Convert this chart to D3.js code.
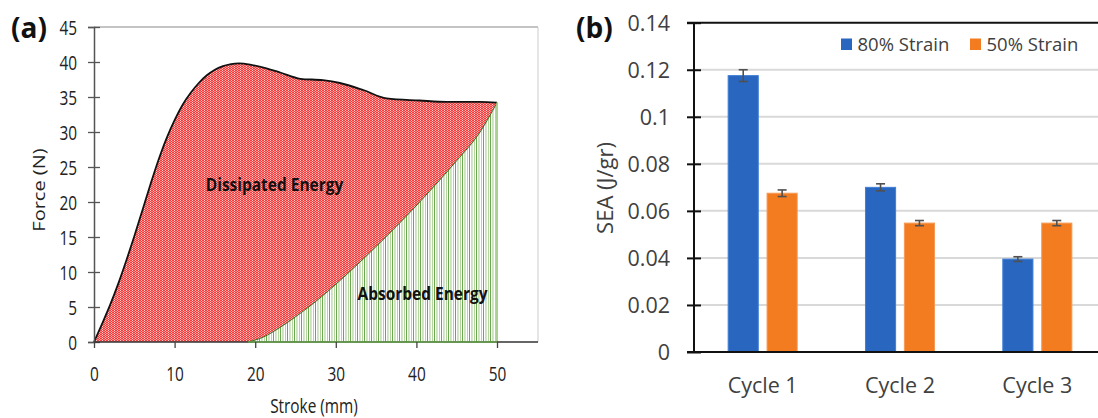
<!DOCTYPE html>
<html><head><meta charset="utf-8">
<script src="https://cdn.jsdelivr.net/npm/d3@7"></script>
<style>
html,body{margin:0;padding:0;background:#fff;}
svg{display:block;font-family:"Open Sans",sans-serif;}
</style></head>
<body>
<svg id="c" width="1098" height="418"></svg>
<script>
// ---------- Data panel (a) ----------
const loadStroke = [0, 1, 2, 3, 4, 5, 6, 7, 8, 9, 10, 11, 12, 13, 14, 15, 16, 17, 18, 19.5, 21.4, 23.1, 25.6, 28.4, 30.5, 33.4, 36.3, 40.4, 43.8, 47.9, 50];
const loadForce  = [0, 2.6, 5.3, 8.3, 11.6, 15.1, 18.8, 22.5, 26.0, 29.1, 31.7, 33.9, 35.6, 37.0, 38.1, 38.9, 39.4, 39.7, 39.8, 39.6, 39.1, 38.5, 37.6, 37.4, 37.0, 36.0, 34.8, 34.5, 34.3, 34.3, 34.2];
const unloadStroke = [19.1, 21, 23.1, 25, 27.2, 31.4, 35.5, 39.6, 42, 45, 47.9, 50];
const unloadForce  = [0, 0.7, 2.1, 3.6, 5.5, 9.7, 14.2, 19.0, 22.0, 25.9, 30.0, 34.2];
const forceTicks = [0, 5, 10, 15, 20, 25, 30, 35, 40, 45];
const strokeTicks = [0, 10, 20, 30, 40, 50];

// ---------- Data panel (b) ----------
const cycles = ["Cycle 1", "Cycle 2", "Cycle 3"];
const seriesNames = ["80% Strain", "50% Strain"];
const sea80 = [0.1175, 0.0700, 0.0395];
const sea50 = [0.0675, 0.0548, 0.0548];
const err80 = [0.0025, 0.0015, 0.0010];
const err50 = [0.0014, 0.0011, 0.0011];
const seaTicks = [0, 0.02, 0.04, 0.06, 0.08, 0.1, 0.12, 0.14];

const svg = d3.select("#c");
const defs = svg.append("defs");

// red dotted texture
const rp = defs.append("pattern").attr("id","redpat").attr("width",3).attr("height",2).attr("patternUnits","userSpaceOnUse");
rp.append("rect").attr("width",3).attr("height",2).attr("fill","#f53c3c");
rp.append("rect").attr("x",0).attr("y",0).attr("width",1).attr("height",1).attr("fill","#fff").attr("opacity",0.75);
rp.append("rect").attr("x",1.5).attr("y",1).attr("width",1).attr("height",1).attr("fill","#fff").attr("opacity",0.75);

// green striped texture
const gp = defs.append("pattern").attr("id","greenpat").attr("width",7).attr("height",4).attr("patternUnits","userSpaceOnUse");
gp.append("rect").attr("width",7).attr("height",4).attr("fill","#fff");
gp.append("rect").attr("x",0).attr("width",1).attr("height",4).attr("fill","#6aa84f");
gp.append("rect").attr("x",2.5).attr("width",0.9).attr("height",4).attr("fill","#98c47a");
gp.append("rect").attr("x",5).attr("width",1).attr("height",4).attr("fill","#b4d59f");

// ================= Panel (a) =================
const xA = d3.scaleLinear().domain([0, 50]).range([94, 497]);
const yA = d3.scaleLinear().domain([0, 45]).range([342, 27]);
const sqA = 0.77;

const loadPts = loadStroke.map((s,i)=>[s, loadForce[i]]);
const unloadPts = unloadStroke.map((s,i)=>[s, unloadForce[i]]);

const areaA = d3.area().x(d=>xA(d[0])).y0(yA(0)).y1(d=>yA(d[1])).curve(d3.curveMonotoneX);
const lineA = d3.line().x(d=>xA(d[0])).y(d=>yA(d[1])).curve(d3.curveMonotoneX);

// plot border (top/right)
svg.append("line").attr("x1",xA(0)).attr("x2",538).attr("y1",yA(45)).attr("y2",yA(45)).attr("stroke","#8a8a8a").attr("stroke-width",1.2);
svg.append("line").attr("x1",538).attr("x2",538).attr("y1",yA(45)).attr("y2",yA(0)).attr("stroke","#cccccc").attr("stroke-width",1);

svg.append("path").attr("d", areaA(loadPts)).attr("fill","url(#redpat)");
svg.append("path").attr("d", areaA(unloadPts)).attr("fill","url(#greenpat)");
svg.append("path").attr("d", lineA(loadPts)).attr("fill","none").attr("stroke","#111").attr("stroke-width",1.8);
svg.append("path").attr("d", lineA(unloadPts)).attr("fill","none").attr("stroke","#3d6b25").attr("stroke-width",1);
// green right edge
svg.append("line").attr("x1",xA(50)).attr("x2",xA(50)).attr("y1",yA(0)).attr("y2",yA(unloadForce[unloadForce.length-1])).attr("stroke","#8fc070").attr("stroke-width",1.5);

// axes (a)
const axYA = svg.append("g").attr("transform",`translate(${xA(0)},0)`)
  .call(d3.axisLeft(yA).tickValues(forceTicks).tickSize(6).tickFormat(d3.format("d")));
axYA.select(".domain").attr("stroke","#555").attr("stroke-width",1.5);
axYA.selectAll(".tick line").attr("x1",6).attr("x2",-6).attr("stroke","#555").attr("stroke-width",1.3);
axYA.selectAll(".tick text").attr("x",0)
  .attr("transform",`translate(-17,0) scale(${sqA},1)`).attr("dy","0.35em")
  .attr("font-size",20).attr("fill","#222").attr("font-family","Open Sans");

svg.append("line").attr("x1",xA(0)).attr("x2",538).attr("y1",yA(0)).attr("y2",yA(0)).attr("stroke","#333").attr("stroke-width",1.5);
svg.append("line").attr("x1",xA(unloadStroke[0])).attr("x2",xA(50)).attr("y1",yA(0)).attr("y2",yA(0)).attr("stroke","#6aa84f").attr("stroke-width",1.5);
const axXA = svg.append("g").attr("transform",`translate(0,${yA(0)})`)
  .call(d3.axisBottom(xA).tickValues(strokeTicks).tickSize(6).tickFormat(d3.format("d")));
axXA.select(".domain").remove();
axXA.selectAll(".tick line").attr("stroke","#444").attr("stroke-width",1.3);
axXA.selectAll(".tick text").attr("y",0).attr("dy",null)
  .attr("transform",`translate(0,38.7) scale(${sqA},1)`)
  .attr("font-size",20).attr("fill","#222").attr("font-family","Open Sans");

// labels (a)
svg.append("text").attr("transform",`translate(314,413) scale(${sqA},1)`).attr("text-anchor","middle")
  .attr("font-size",20).attr("fill","#222").text("Stroke (mm)");
svg.append("text").attr("transform",`translate(45,190) scale(0.82,1) rotate(-90)`).attr("text-anchor","middle")
  .attr("font-size",20).attr("fill","#222").text("Force (N)");
svg.append("text").attr("transform",`translate(274.5,191) scale(0.86,1)`).attr("text-anchor","middle")
  .attr("font-size",18).attr("font-weight","bold").attr("fill","#111").text("Dissipated Energy");
svg.append("text").attr("transform",`translate(422.5,300) scale(0.86,1)`).attr("text-anchor","middle")
  .attr("font-size",18).attr("font-weight","bold").attr("fill","#111").text("Absorbed Energy");
svg.append("text").attr("x",11).attr("y",38).attr("font-size",28).attr("font-weight","bold").attr("fill","#111").text("(a)");

// ================= Panel (b) =================
const xB = d3.scaleBand().domain(cycles).range([694, 1106]).paddingInner(0.49).paddingOuter(0.245);
const xSub = d3.scaleBand().domain(seriesNames).range([0, xB.bandwidth()]).paddingInner(0.2);
const yB = d3.scaleLinear().domain([0, 0.14]).range([352, 22.7]);
const colors = {"80% Strain":"#2866c0","50% Strain":"#f47c20"};
const strokes = {"80% Strain":"#3f7fd6","50% Strain":"#f59a55"};

// gridlines
svg.append("g").selectAll("line").data(seaTicks.filter(t=>t>0 && t<0.14)).join("line")
  .attr("x1",694).attr("x2",1098).attr("y1",d=>yB(d)).attr("y2",d=>yB(d))
  .attr("stroke","#d9d9d9").attr("stroke-width",2);
svg.append("line").attr("x1",687).attr("x2",1098).attr("y1",yB(0.14)).attr("y2",yB(0.14)).attr("stroke","#111").attr("stroke-width",2);

const rows = [];
cycles.forEach((c,i)=>{
  rows.push({c, s:"80% Strain", v:sea80[i], e:err80[i]});
  rows.push({c, s:"50% Strain", v:sea50[i], e:err50[i]});
});
svg.append("g").selectAll("rect").data(rows).join("rect")
  .attr("x",d=>xB(d.c)+xSub(d.s)+0.5).attr("width",xSub.bandwidth()-1)
  .attr("y",d=>yB(d.v)).attr("height",d=>yB(0)-yB(d.v))
  .attr("fill",d=>colors[d.s]).attr("stroke",d=>strokes[d.s]).attr("stroke-width",1);

// error bars
const eg = svg.append("g").attr("stroke","#505050").attr("stroke-width",1.6);
rows.forEach(d=>{
  const cx = xB(d.c)+xSub(d.s)+xSub.bandwidth()/2;
  eg.append("line").attr("x1",cx).attr("x2",cx).attr("y1",yB(d.v+d.e)).attr("y2",yB(d.v-d.e));
  eg.append("line").attr("x1",cx-4.5).attr("x2",cx+4.5).attr("y1",yB(d.v+d.e)).attr("y2",yB(d.v+d.e));
  eg.append("line").attr("x1",cx-4.5).attr("x2",cx+4.5).attr("y1",yB(d.v-d.e)).attr("y2",yB(d.v-d.e));
});

// axes (b)
const axYB = svg.append("g").attr("transform","translate(694,0)")
  .call(d3.axisLeft(yB).tickValues(seaTicks).tickSize(7).tickFormat(d=>d3.format("")(+d.toFixed(2))));
axYB.select(".domain").attr("stroke","#111").attr("stroke-width",2).attr("d",`M0,${yB(0.14)}V${yB(0)}`);
axYB.selectAll(".tick line").attr("x1",-7).attr("x2",7).attr("stroke","#111").attr("stroke-width",2);
axYB.selectAll(".tick text").attr("x",-24).attr("dy","0.35em").attr("font-size",21.5).attr("fill","#404040").attr("font-family","Open Sans");

svg.append("line").attr("x1",687).attr("x2",1098).attr("y1",yB(0)).attr("y2",yB(0)).attr("stroke","#111").attr("stroke-width",2);
const axXB = svg.append("g").attr("transform",`translate(0,${yB(0)})`).call(d3.axisBottom(xB).tickSize(0));
axXB.select(".domain").remove();
axXB.selectAll(".tick text").attr("y",40.7).attr("dy",null).attr("font-size",21.5).attr("fill","#404040").attr("font-family","Open Sans");

svg.append("text").attr("transform","translate(613,188) rotate(-90)").attr("text-anchor","middle")
  .attr("font-size",22).attr("fill","#404040").text("SEA (J/gr)");
svg.append("text").attr("x",576).attr("y",38).attr("font-size",28).attr("font-weight","bold").attr("fill","#111").text("(b)");

// legend
const legX = [841, 970];
seriesNames.forEach((s,i)=>{
  svg.append("rect").attr("x",legX[i]).attr("y",38.5).attr("width",11).attr("height",11.5).attr("fill",colors[s]);
  svg.append("text").attr("x",legX[i]+16.5).attr("y",50.5).attr("font-size",18.5).attr("fill","#404040").text(s);
});
</script>
</body></html>
